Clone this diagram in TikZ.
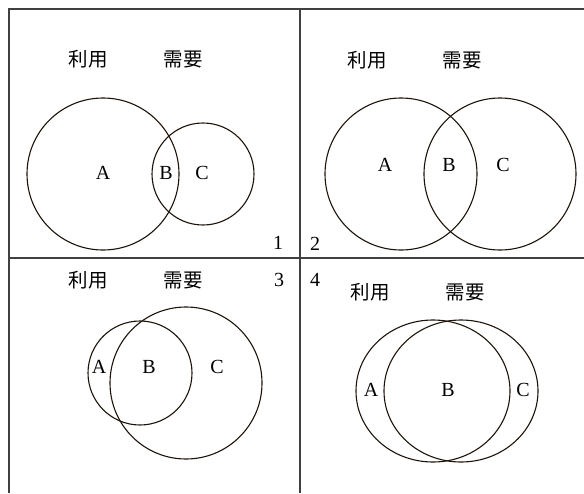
\documentclass[tikz,border=0pt]{standalone}
\usepackage{fontspec}
\setmainfont{Liberation Serif}
\newfontfamily\cjk{Noto Sans CJK SC}
\usetikzlibrary{positioning}
\tikzset{
  frame_line/.style={line width=1.4pt, black!75},
  set_circle/.style={line width=1.1pt, black!85!brown},
  set_label/.style={font=\fontsize{20}{23}\selectfont, inner sep=0pt},
  head_label/.style={font=\cjk\fontsize{19.5}{23}\selectfont, inner sep=0pt},
  panel_num/.style={font=\fontsize{20}{23}\selectfont, inner sep=0pt}
}

\begin{document}
\begin{tikzpicture}[x=1pt, y=-1pt]
  \useasboundingbox (0,0) rectangle (584,493);

  % --- 0. Grid of the four panels ---
  \coordinate (TL) at (9,9);
  \coordinate (TR) at (584,9);
  \coordinate (BL) at (9,493);
  \coordinate (MT) at (300,9);
  \coordinate (MB) at (300,493);
  \coordinate (ML) at (9,258);
  \coordinate (MR) at (584,258);
  \draw[frame_line] (BL) -- (TL) -- (TR);
  \draw[frame_line] (MT) -- (MB);
  \draw[frame_line] (ML) -- (MR);

  % --- 1. Panel 1 (top left) ---
  \draw[set_circle] (103,174) circle[radius=76pt];
  \draw[set_circle] (203,174) circle[radius=51pt];
  \node[head_label] (use1) at (88,59) {利用};
  \node[head_label, right=56pt of use1] (need1) {需要};
  \node[set_label] (a1) at (103,173) {A};
  \node[set_label] (b1) at (166,173) {B};
  \node[set_label] (c1) at (202,173) {C};
  \node[panel_num] (num1) at (278,243) {1};

  % --- 2. Panel 2 (top right) ---
  \draw[set_circle] (401,174) circle[radius=76pt];
  \draw[set_circle] (500,174) circle[radius=76pt];
  \node[head_label] (use2) at (367,60) {利用};
  \node[head_label, right=56pt of use2] (need2) {需要};
  \node[set_label] (a2) at (385,165) {A};
  \node[set_label] (b2) at (449,165) {B};
  \node[set_label] (c2) at (503,165) {C};
  \node[panel_num] (num2) at (315,244) {2};

  % --- 3. Panel 3 (bottom left) ---
  \draw[set_circle] (140,373) circle[radius=52pt];
  \draw[set_circle] (186,383) circle[radius=76pt];
  \node[head_label] (use3) at (88,280) {利用};
  \node[head_label, right=56pt of use3] (need3) {需要};
  \node[set_label] (a3) at (99,367) {A};
  \node[set_label] (b3) at (149,367) {B};
  \node[set_label] (c3) at (217,367) {C};
  \node[panel_num] (num3) at (279,280) {3};

  % --- 4. Panel 4 (bottom right) ---
  \draw[set_circle] (433,391) ellipse[x radius=77pt, y radius=71pt];
  \draw[set_circle] (461,391) ellipse[x radius=77pt, y radius=71pt];
  \node[head_label] (use4) at (370,292) {利用};
  \node[head_label, right=56pt of use4] (need4) {需要};
  \node[set_label] (a4) at (371,390) {A};
  \node[set_label] (b4) at (448,390) {B};
  \node[set_label] (c4) at (523,390) {C};
  \node[panel_num] (num4) at (315,280) {4};
\end{tikzpicture}
\end{document}
